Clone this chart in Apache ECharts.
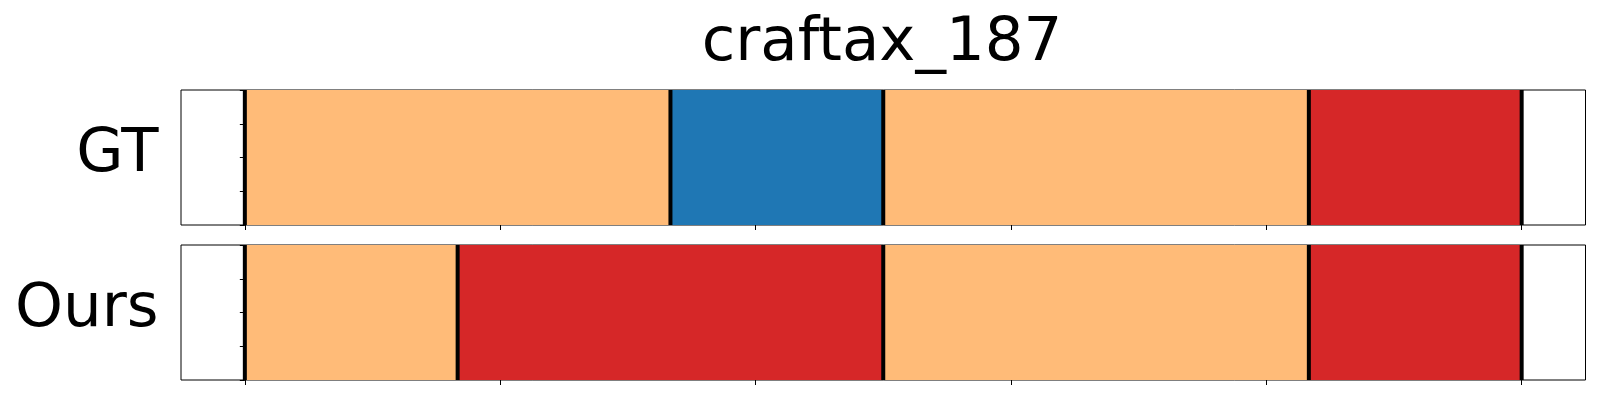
<!DOCTYPE html>
<html>
<head>
<meta charset="utf-8">
<script src="https://cdn.jsdelivr.net/npm/echarts@6/dist/echarts.min.js"></script>
<style>html,body{margin:0;padding:0;background:#fff}#c{width:1600px;height:400px}</style>
</head>
<body>
<div id="c"></div>
<script>
const title = 'craftax_187';
const rowLabels = ['GT', 'Ours'];
const gtBounds = [0, 20, 30, 50, 60];
const gtClasses = ['orange', 'blue', 'orange', 'red'];
const oursBounds = [0, 10, 30, 50, 60];
const oursClasses = ['orange', 'red', 'orange', 'red'];
const xTicks = [0, 12, 24, 36, 48, 60];
const classColors = { orange: '#ffbb78', blue: '#1f77b4', red: '#d62728' };

const FONT = 'DejaVu Sans';
const FS = 61;
const gridLeft = 181, gridW = 1404.5, gridH = 135;
const gridTops = [90, 245];

function segData(bounds, classes) {
  const d = [];
  for (let i = 0; i < classes.length; i++) d.push([bounds[i], bounds[i + 1], classes[i]]);
  return d;
}

const chart = echarts.init(document.getElementById('c'), null, { renderer: 'canvas' });
const grids = [], xAxes = [], yAxes = [], series = [];
const allBounds = [gtBounds, oursBounds];
const allClasses = [gtClasses, oursClasses];
for (let k = 0; k < 2; k++) {
  grids.push({ left: gridLeft, top: gridTops[k], width: gridW, height: gridH, show: true,
    borderColor: '#000', borderWidth: 1, backgroundColor: '#fff', containLabel: false });
  xAxes.push({ gridIndex: k, type: 'value', min: -3, max: 63,
    axisLine: { show: false }, splitLine: { show: false }, axisLabel: { show: false },
    axisTick: { show: true, inside: false, length: 5, customValues: xTicks, lineStyle: { color: '#000', width: 1 } } });
  yAxes.push({ gridIndex: k, type: 'value', min: 0, max: 1, interval: 0.25,
    axisLine: { show: false }, splitLine: { show: false }, axisLabel: { show: false },
    axisTick: { show: true, inside: false, length: 5, lineStyle: { color: '#000', width: 1 } } });
  series.push({
    type: 'custom', xAxisIndex: k, yAxisIndex: k,
    data: segData(allBounds[k], allClasses[k]),
    renderItem: function (params, api) {
      const p0 = api.coord([api.value(0), 1]);
      const p1 = api.coord([api.value(1), 0]);
      const cls = allClasses[k][params.dataIndex];
      return { type: 'rect', shape: { x: p0[0], y: p0[1], width: p1[0] - p0[0], height: p1[1] - p0[1] },
        style: { fill: classColors[cls] } };
    }
  });
  series.push({
    type: 'custom', xAxisIndex: k, yAxisIndex: k, z: 5,
    data: allBounds[k].map(v => [v]),
    renderItem: function (params, api) {
      const a = api.coord([api.value(0), 1]);
      const b = api.coord([api.value(0), 0]);
      return { type: 'line', shape: { x1: a[0], y1: a[1], x2: b[0], y2: b[1] },
        style: { stroke: '#000', lineWidth: 4 } };
    }
  });
}

chart.setOption({
  backgroundColor: '#fff',
  animation: false,
  grid: grids, xAxis: xAxes, yAxis: yAxes, series: series,
  graphic: [
    { type: 'text', style: { text: title, x: 882, y: 44, align: 'center', verticalAlign: 'middle', font: FS + 'px "' + FONT + '"', fill: '#000' } },
    { type: 'text', style: { text: rowLabels[0], x: 158.5, y: 155, align: 'right', verticalAlign: 'middle', font: FS + 'px "' + FONT + '"', fill: '#000' } },
    { type: 'text', style: { text: rowLabels[1], x: 158.5, y: 310.5, align: 'right', verticalAlign: 'middle', font: FS + 'px "' + FONT + '"', fill: '#000' } }
  ]
});
</script>
</body>
</html>
